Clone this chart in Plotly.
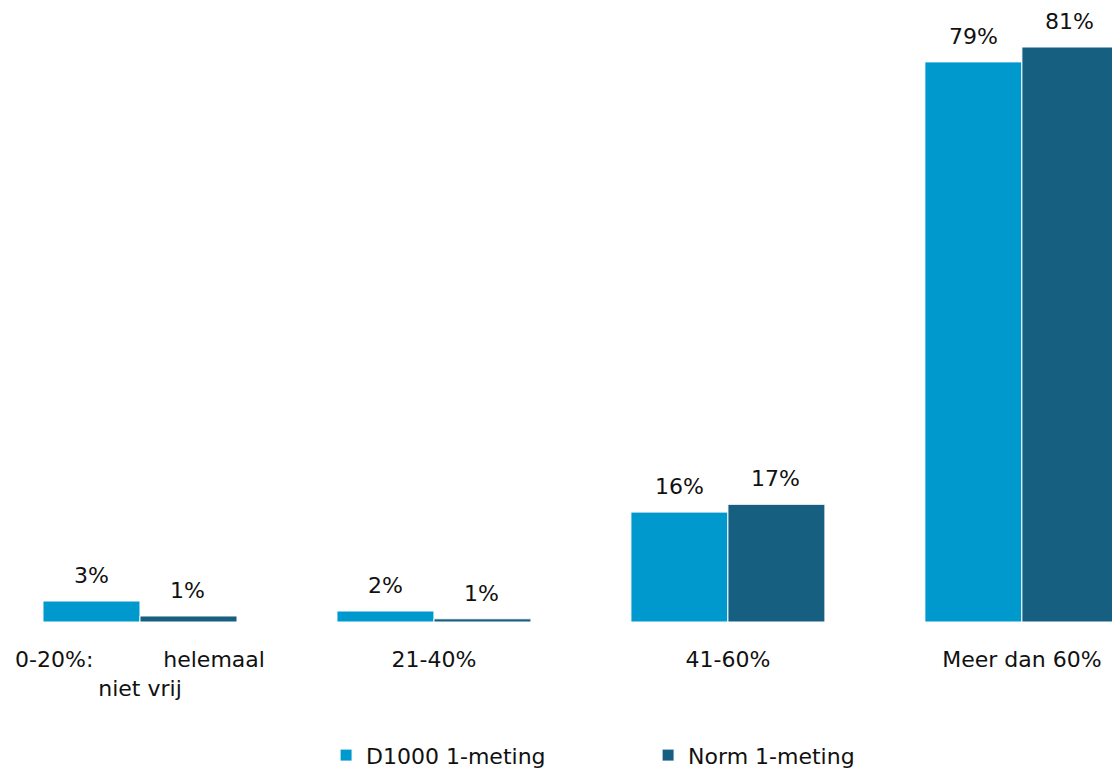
import plotly.graph_objects as go

categories = ["0-20%:" + " " * 10 + "helemaal<br>niet vrij", "21-40%", "41-60%", "Meer dan 60%"]
d1000_values = [2.96, 1.55, 15.5, 79.0]
d1000_labels = ["3%", "2%", "16%", "79%"]
norm_values = [0.85, 0.45, 16.6, 81.1]
norm_labels = ["1%", "1%", "17%", "81%"]

FONT = "DejaVu Sans"
LIGHT = "#0099CE"
DARK = "#175F80"

fig = go.Figure()
fig.add_trace(go.Bar(x=categories, y=d1000_values, name="D1000 1-meting",
                     marker=dict(color=LIGHT, line=dict(color="white", width=1))))
fig.add_trace(go.Bar(x=categories, y=norm_values, name="Norm 1-meting",
                     marker=dict(color=DARK, line=dict(color="white", width=1))))

# value labels above bars (data coordinates, shifted to each bar of the pair)
for cat, v, lab in zip(categories, d1000_values, d1000_labels):
    fig.add_annotation(x=cat, y=v, text=lab, showarrow=False, xshift=-48,
                       yanchor="bottom", yshift=11, font=dict(size=22, color="#111"))
for cat, v, lab in zip(categories, norm_values, norm_labels):
    fig.add_annotation(x=cat, y=v, text=lab, showarrow=False, xshift=48,
                       yanchor="bottom", yshift=11, font=dict(size=22, color="#111"))

fig.update_layout(
    width=1120, height=772,
    margin=dict(l=0, r=0, t=0, b=158, autoexpand=False),
    plot_bgcolor="white", paper_bgcolor="white",
    font=dict(family=FONT, size=22, color="#111"),
    barmode="group", bargap=0.34, bargroupgap=0,
    xaxis=dict(range=[-0.449, 3.361], showline=False, ticks="", automargin=False,
               ticklabelstandoff=22, tickfont=dict(size=22)),
    yaxis=dict(range=[0, 86.6], visible=False),
    legend=dict(orientation="h", x=0.284, xanchor="left", y=0.032, yref="container",
                yanchor="middle", font=dict(size=22),
                entrywidth=277, entrywidthmode="pixels",
                traceorder="normal"),
    showlegend=True,
)

fig.write_html("out.html")
